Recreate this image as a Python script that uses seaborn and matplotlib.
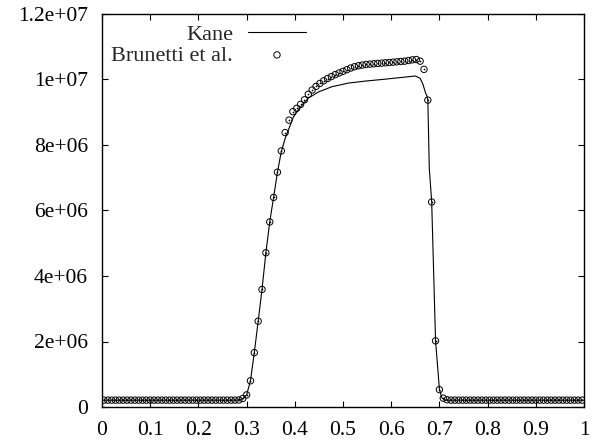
#! /usr/bin/env python3
'''
Kane vs. Brunetti et al. profile comparison.
'''
# imports
from matplotlib import rcParams
from matplotlib.ticker import FuncFormatter
import matplotlib
matplotlib.use('Agg')
import matplotlib.pyplot as plt
import numpy as np
import seaborn as sns

# settings
sns.set_style("ticks")
rcParams['font.family'] = ['Liberation Serif', 'DejaVu Serif']

# data: Brunetti et al. (cell centres, spacing 0.008)
brunetti_x = np.arange(125) * 0.008 + 0.004
brunetti_y = ([2.1e5] * 35 +
              [2.15e5, 2.6e5, 3.7e5, 8.0e5, 1.66e6, 2.62e6, 3.59e6, 4.71e6,
               5.65e6, 6.40e6, 7.17e6, 7.82e6, 8.38e6, 8.76e6, 9.02e6, 9.12e6,
               9.24e6, 9.38e6, 9.55e6, 9.68e6, 9.79e6, 9.88e6, 9.96e6, 1.003e7,
               1.009e7, 1.015e7, 1.020e7, 1.025e7, 1.030e7, 1.035e7, 1.039e7,
               1.042e7, 1.044e7, 1.046e7, 1.047e7, 1.048e7, 1.049e7, 1.050e7,
               1.051e7, 1.052e7, 1.053e7, 1.054e7, 1.055e7, 1.056e7, 1.058e7,
               1.060e7, 1.061e7, 1.056e7, 1.031e7, 9.37e6, 6.26e6, 2.02e6,
               5.3e5, 2.7e5, 2.2e5] +
              [2.1e5] * 35)

# data: Kane
kane_x = [0.000, 0.280, 0.292, 0.300, 0.308, 0.316, 0.324, 0.332, 0.340, 0.348,
          0.356, 0.364, 0.372, 0.380, 0.397, 0.411, 0.428, 0.449, 0.477, 0.511,
          0.545, 0.584, 0.620, 0.650, 0.660, 0.666, 0.671, 0.674, 0.676, 0.679,
          0.684, 0.692, 0.700, 0.705, 0.712, 0.720, 1.000]
kane_y = [2.1e5, 2.1e5, 2.5e5, 3.7e5, 8.0e5, 1.66e6, 2.62e6, 3.59e6, 4.71e6, 5.65e6,
          6.40e6, 7.17e6, 7.80e6, 8.2e6, 8.85e6, 9.15e6, 9.43e6, 9.62e6, 9.78e6, 9.89e6,
          9.95e6, 1.0005e7, 1.006e7, 1.0107e7, 1.0037e7, 9.85e6, 9.6e6, 9.5e6, 9.37e6, 7.3e6,
          6.26e6, 2.02e6, 5.5e5, 2.8e5, 2.1e5, 2.1e5, 2.1e5]

xticks = [0, 0.1, 0.2, 0.3, 0.4, 0.5, 0.6, 0.7, 0.8, 0.9, 1.0]
yticks = [0, 2e6, 4e6, 6e6, 8e6, 1e7, 1.2e7]

# figure
fig = plt.figure(figsize=(5.97, 4.43), dpi=100)
ax = fig.add_axes([102/597, 36/443, 482/597, 393/443])

sns.lineplot(x=kane_x, y=kane_y, color='black', lw=0.8, sort=False,
             label='Kane', ax=ax)
sns.scatterplot(x=brunetti_x, y=brunetti_y, marker='o', s=21,
                facecolor='none', edgecolor='black', linewidth=0.7,
                label='Brunetti et al.', ax=ax)
sns.scatterplot(x=brunetti_x, y=brunetti_y, marker='o', s=1.5,
                color='black', linewidth=0, legend=False, ax=ax)

ax.set_xlim(0, 1)
ax.set_ylim(0, 1.2e7)
ax.set_xticks(xticks)
ax.set_yticks(yticks)
fmt = FuncFormatter(lambda v, p: '%g' % v)
ax.xaxis.set_major_formatter(fmt)
ax.yaxis.set_major_formatter(fmt)
ax.tick_params(direction='in', length=4.5, width=0.8, labelsize=15.5,
               top=True, right=True, color='black', labelcolor='black')
ax.tick_params(axis='y', pad=10)
ax.tick_params(axis='x', pad=10)
for s in ax.spines.values():
    s.set_visible(True)
    s.set_color('black')
    s.set_linewidth(1.0)
ax.set_xlabel('')
ax.set_ylabel('')

leg = ax.legend(loc='upper right', bbox_to_anchor=(0.423, 0.973),
                frameon=False, markerfirst=False, fontsize=16,
                handlelength=2.6, handletextpad=0.68, labelspacing=0.0,
                borderpad=0, borderaxespad=0)
leg._legend_box._children[-1]._children[0].align = 'right'

fig.savefig('out.png', dpi=100)
plt.close()
